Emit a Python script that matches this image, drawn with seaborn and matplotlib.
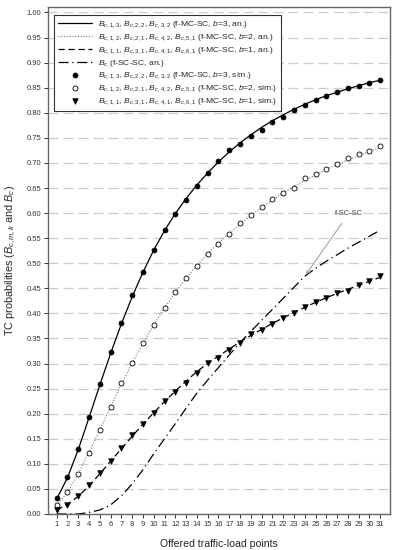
import numpy as np
import pandas as pd
import matplotlib
matplotlib.use("Agg")
import matplotlib.pyplot as plt
import seaborn as sns

# Offered traffic-load points
load_pts = list(range(1, 32))

# Analytical curves (f-MC-SC, b=3 / b=2 / b=1) and f-SC-SC
b3_an = [0.030, 0.072, 0.128, 0.192, 0.257, 0.320, 0.379, 0.433, 0.482, 0.526,
         0.565, 0.599, 0.629, 0.656, 0.680, 0.702, 0.722, 0.740, 0.756, 0.771,
         0.784, 0.796, 0.807, 0.817, 0.826, 0.834, 0.841, 0.848, 0.854, 0.860, 0.865]
b2_an = [0.017, 0.043, 0.080, 0.123, 0.168, 0.214, 0.259, 0.301, 0.340, 0.377,
         0.411, 0.442, 0.470, 0.496, 0.519, 0.540, 0.560, 0.578, 0.595, 0.611,
         0.626, 0.640, 0.653, 0.665, 0.676, 0.687, 0.697, 0.706, 0.715, 0.723, 0.731]
b1_an = [0.008, 0.019, 0.035, 0.056, 0.080, 0.105, 0.130, 0.155, 0.179, 0.202,
         0.224, 0.245, 0.265, 0.284, 0.300, 0.315, 0.329, 0.343, 0.356, 0.368,
         0.380, 0.391, 0.402, 0.412, 0.422, 0.431, 0.440, 0.448, 0.456, 0.464, 0.472]
sc_an = [0.0, 0.0, 0.0, 0.003, 0.008, 0.018, 0.036, 0.060, 0.088, 0.120,
         0.150, 0.180, 0.211, 0.241, 0.267, 0.292, 0.317, 0.342, 0.364, 0.386,
         0.408, 0.430, 0.452, 0.474, 0.490, 0.504, 0.517, 0.530, 0.542, 0.554, 0.566]

# Simulation points
b3_sim = [0.032, 0.073, 0.130, 0.194, 0.259, 0.322, 0.381, 0.436, 0.482, 0.527,
          0.566, 0.599, 0.627, 0.655, 0.680, 0.704, 0.725, 0.737, 0.753, 0.766,
          0.781, 0.792, 0.806, 0.815, 0.825, 0.833, 0.841, 0.849, 0.854, 0.860, 0.866]
b2_sim = [0.018, 0.043, 0.080, 0.122, 0.168, 0.214, 0.261, 0.302, 0.340, 0.377,
          0.410, 0.442, 0.470, 0.495, 0.518, 0.538, 0.559, 0.580, 0.596, 0.613,
          0.628, 0.640, 0.651, 0.669, 0.677, 0.687, 0.697, 0.709, 0.717, 0.723, 0.733]
b1_sim = [0.008, 0.018, 0.035, 0.057, 0.081, 0.106, 0.131, 0.158, 0.180, 0.202,
          0.226, 0.244, 0.262, 0.281, 0.301, 0.311, 0.327, 0.341, 0.359, 0.367,
          0.379, 0.391, 0.401, 0.413, 0.423, 0.430, 0.440, 0.445, 0.456, 0.464, 0.474]

labels = [
    r"$B_{c,1,3}$, $B_{c,2,2}$, $B_{c,3,2}$ (f-MC-SC, $b$=3, an.)",
    r"$B_{c,1,2}$, $B_{c,2,1}$, $B_{c,4,2}$, $B_{c,5,1}$ (f-MC-SC, $b$=2, an.)",
    r"$B_{c,1,1}$, $B_{c,3,1}$, $B_{c,4,1}$, $B_{c,6,1}$ (f-MC-SC, $b$=1, an.)",
    r"$B_{c}$ (f-SC-SC, an.)",
    r"$B_{c,1,3}$, $B_{c,2,2}$, $B_{c,3,2}$ (f-MC-SC, $b$=3, sim.)",
    r"$B_{c,1,2}$, $B_{c,2,1}$, $B_{c,4,2}$, $B_{c,5,1}$ (f-MC-SC, $b$=2, sim.)",
    r"$B_{c,1,1}$, $B_{c,3,1}$, $B_{c,4,1}$, $B_{c,6,1}$ (f-MC-SC, $b$=1, sim.)",
]

# estilo
sns.set_theme(style="ticks")
plt.rcParams["font.family"] = ["Liberation Sans", "DejaVu Sans"]
plt.rcParams["mathtext.fontset"] = "custom"
plt.rcParams["mathtext.rm"] = "Liberation Sans"
plt.rcParams["mathtext.it"] = "Liberation Sans:italic"

fig = plt.figure(figsize=(3.99, 5.5), dpi=100)
ax = fig.add_axes([0.1203, 0.0655, 0.8571, 0.9209])

df = pd.DataFrame({"x": load_pts, "b3_an": b3_an, "b2_an": b2_an, "b1_an": b1_an,
                   "sc_an": sc_an, "b3_sim": b3_sim, "b2_sim": b2_sim, "b1_sim": b1_sim})

# analytical lines
sns.lineplot(data=df, x="x", y="b3_an", ax=ax, color="black", lw=0.9, label=labels[0])
sns.lineplot(data=df, x="x", y="b2_an", ax=ax, color="#777777", lw=0.8,
             linestyle=(0, (1, 1.5)), label=labels[1])
sns.lineplot(data=df, x="x", y="b1_an", ax=ax, color="black", lw=0.9,
             linestyle=(0, (5, 3)), label=labels[2])
sns.lineplot(data=df, x="x", y="sc_an", ax=ax, color="black", lw=0.9,
             linestyle=(0, (8, 3, 1, 3)), label=labels[3])

# simulation points
sns.scatterplot(data=df, x="x", y="b3_sim", ax=ax, marker="o", s=13, color="black",
                edgecolor="black", linewidth=0.5, label=labels[4], zorder=5)
sns.scatterplot(data=df, x="x", y="b2_sim", ax=ax, marker="o", s=13, color="white",
                edgecolor="black", linewidth=0.6, label=labels[5], zorder=5)
sns.scatterplot(data=df, x="x", y="b1_sim", ax=ax, marker="v", s=16, color="black",
                edgecolor="black", linewidth=0.5, label=labels[6], zorder=5)

ax.annotate("f-SC-SC", xy=(24.1, 0.477), xytext=(28.1, 0.600), fontsize=5.5,
            ha="center", va="center", color="#444444",
            arrowprops=dict(arrowstyle="->", color="#999999", lw=0.7,
                            shrinkA=3, shrinkB=0))

ax.set_xlim(0.2, 31.9)
ax.set_ylim(0, 1.01)
ax.set_xticks(load_pts)
ax.set_yticks(np.arange(0, 1.001, 0.05))
ax.set_yticklabels([f"{v:.2f}" for v in np.arange(0, 1.001, 0.05)])
ax.tick_params(axis="both", labelsize=5.5, length=3, width=0.7, pad=2, colors="#333333")
ax.yaxis.grid(True, linestyle=(0, (8, 4)), color="#cccccc", lw=0.9)
ax.set_axisbelow(True)
for sp in ax.spines.values():
    sp.set_color("#666666")
    sp.set_linewidth(1.0)

ax.set_xlabel("Offered traffic-load points", fontsize=7.6, labelpad=8)
ax.set_ylabel(r"TC probabilities ($B_{c,m,k}$ and $B_c$)", fontsize=7.8, labelpad=6)

leg = ax.legend(loc="upper left", bbox_to_anchor=(0.005, 0.994), fontsize=6.1,
                frameon=True, fancybox=False, edgecolor="#333333", framealpha=1,
                handlelength=4.0, handletextpad=0.7, labelspacing=0.22,
                borderpad=0.5)
leg.get_frame().set_linewidth(0.8)

fig.savefig("out.png", dpi=100)
